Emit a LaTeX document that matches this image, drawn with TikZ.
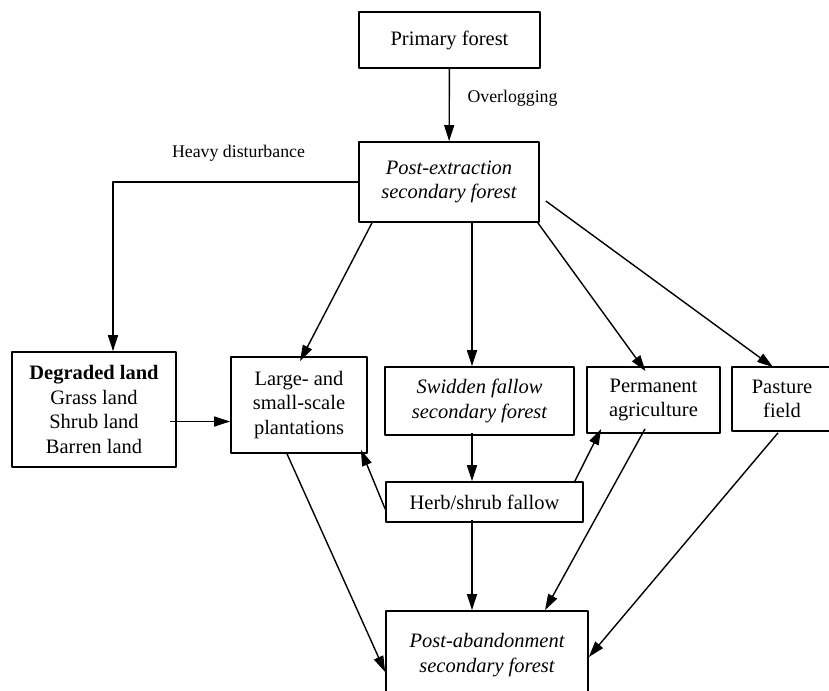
\documentclass[tikz,border=0pt]{standalone}
\usepackage{fontspec}
\setmainfont{Liberation Serif}
\usetikzlibrary{arrows.meta}
\tikzset{
  box/.style={draw, line width=1.7pt, inner sep=0pt, align=center,
    font=\fontsize{20.5}{24.5}\selectfont},
  arr/.style={line width=1.4pt, -{Triangle[length=16pt,width=10pt]}},
  lbl/.style={font=\fontsize{17.8}{21}\selectfont, inner sep=0pt}
}
\begin{document}
\begin{tikzpicture}[x=1pt,y=-1pt,line join=round]
\useasboundingbox (0,0) rectangle (829,690);
% boxes
\node[box, minimum width=181pt, minimum height=56pt] (primary) at (449.5,40) {Primary forest};
\node[box, minimum width=180pt, minimum height=80pt] (postext) at (449,182) {\itshape Post-extraction\\\itshape secondary forest};
\node[box, minimum width=164pt, minimum height=115pt] (degraded) at (94,409.5) {\textbf{Degraded land}\\Grass land\\Shrub land\\Barren land};
\node[box, minimum width=136pt, minimum height=96pt] (plant) at (299,405) {Large- and\\small-scale\\plantations};
\node[box, minimum width=189pt, minimum height=68pt] (swidden) at (479.5,401) {\itshape Swidden fallow\\\itshape secondary forest};
\node[box, minimum width=133pt, minimum height=66pt] (perm) at (653.5,400) {Permanent\\agriculture};
\node[box, minimum width=100pt, minimum height=64pt] (pasture) at (782,399) {Pasture\\field};
\node[box, minimum width=197pt, minimum height=40pt] (herb) at (484.5,502) {Herb/shrub fallow};
\node[box, minimum width=202pt, minimum height=88pt] (postab) at (487,655) {\itshape Post-abandonment\\\itshape secondary forest};
% labels
\node[lbl] (overlog) at (512.5,98) {Overlogging};
\node[lbl] (heavy) at (238.5,153) {Heavy disturbance};
\coordinate (col) at (472,0);
% arrows
\draw[arr] (primary) -- (postext);
\draw[arr] (postext.west) -| ([xshift=19pt]degraded.north);
\draw[arr] ([xshift=-77pt]postext.south) -- ([shift={(1pt,-5pt)}]plant.north);
\draw[arr] (postext.south -| col) -- (swidden.north -| col);
\draw[arr] ([xshift=-2pt]postext.south east) -- ([shift={(-8pt,-5pt)}]perm.north);
\draw[arr] ([shift={(6pt,-19pt)}]postext.east) -- ([shift={(-9pt,-1pt)}]pasture.north);
\draw[arr] ([shift={(-7pt,-12pt)}]degraded.east) coordinate (dl) -- (plant.west |- dl);
\draw[arr] ([yshift=3pt]swidden.south -| col) -- (herb.north -| col);
\draw[arr] ([yshift=-7pt]herb.west) -- ([shift={(-7pt,4pt)}]plant.south east);
\draw[arr] ([xshift=-9pt]herb.north east) -- ([shift={(15pt,5pt)}]perm.south west);
\draw[arr] ([yshift=3pt]herb.south -| col) -- (postab.north -| col);
\draw[arr] ([xshift=-12pt]plant.south) -- ([yshift=-17pt]postab.west);
\draw[arr] ([shift={(-8.5pt,5pt)}]perm.south) -- ([xshift=58pt]postab.north);
\draw[arr] ([shift={(-4pt,-1pt)}]pasture.south) -- ([yshift=-2pt]postab.east);
\end{tikzpicture}
\end{document}
